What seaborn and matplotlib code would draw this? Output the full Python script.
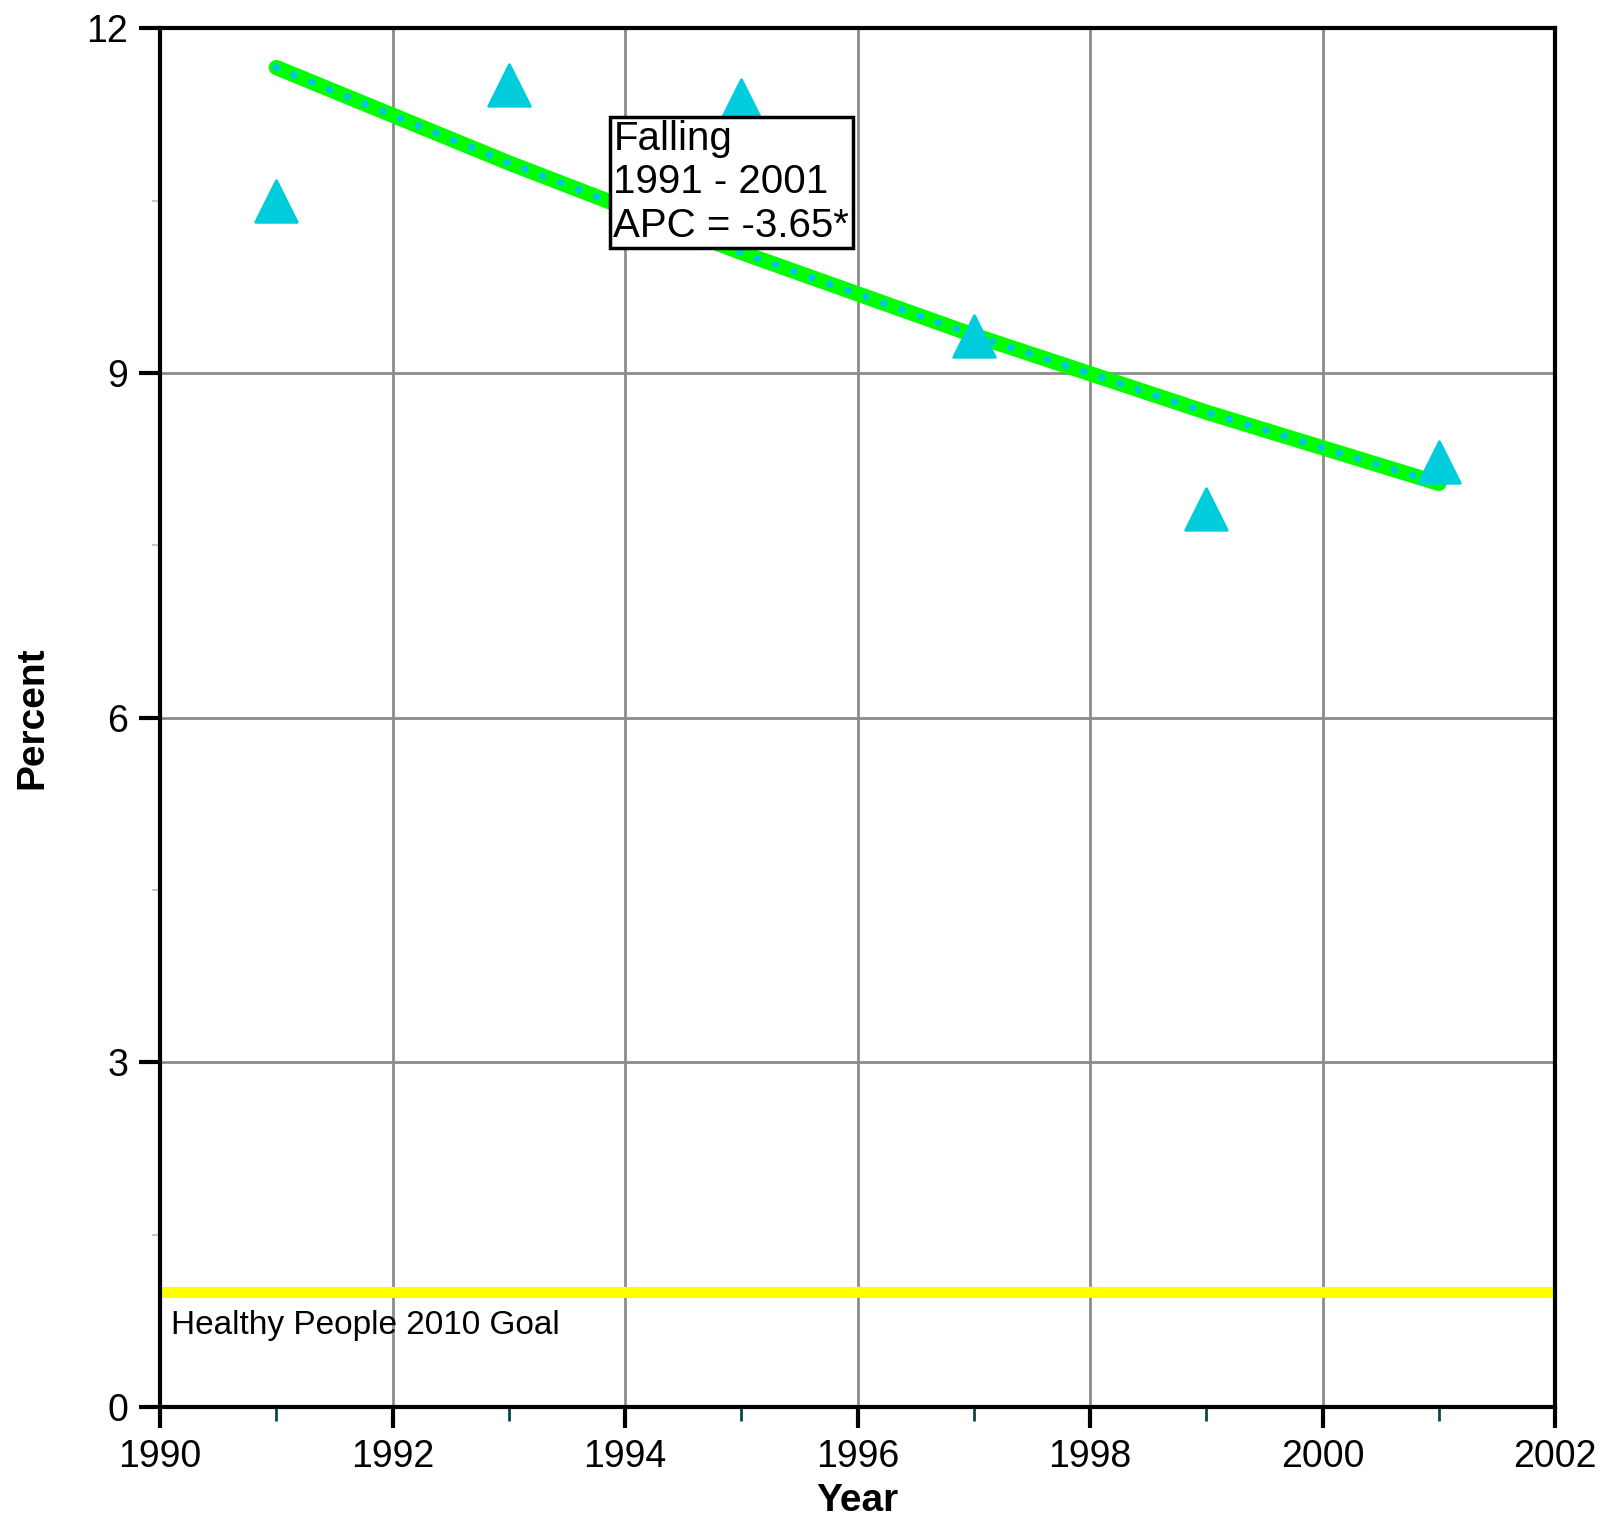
import matplotlib
matplotlib.use("Agg")
import matplotlib.pyplot as plt
import seaborn as sns
import pandas as pd

years = [1991, 1993, 1995, 1997, 1999, 2001]
observed = [10.50, 11.51, 11.38, 9.32, 7.82, 8.23]
fitted = [11.66, 10.83, 10.05, 9.33, 8.66, 8.04]
goal_value = 1.0
goal_label = "Healthy People 2010 Goal"
annotation = "Falling\n1991 - 2001\nAPC = -3.65*"
x_ticks = [1990, 1992, 1994, 1996, 1998, 2000, 2002]
y_ticks = [0, 3, 6, 9, 12]

sns.set_style("white")
plt.rcParams['font.family'] = ['Liberation Sans', 'DejaVu Sans']
plt.rcParams['text.color'] = 'black'
plt.rcParams['axes.labelcolor'] = 'black'
plt.rcParams['xtick.color'] = 'black'
plt.rcParams['ytick.color'] = 'black'

df = pd.DataFrame({"Year": years, "Observed": observed, "Fitted": fitted})

fig = plt.figure(figsize=(15.99, 15.32), dpi=100)
ax = fig.add_axes([0.1001, 0.0816, 0.8725, 0.8998])

ax.set_xlim(1990, 2002)
ax.set_ylim(0, 12)

ax.set_axisbelow(True)
ax.grid(True, which="major", color="#8c8c8c", linewidth=2.0)

ax.axhline(goal_value, color="#ffff00", linewidth=8, zorder=2)
ax.text(1990.09, goal_value - 0.16, goal_label, fontsize=24, ha="left", va="top", color="black")

sns.lineplot(data=df, x="Year", y="Fitted", ax=ax, color="#00ff00", linewidth=11,
             solid_capstyle="round", solid_joinstyle="round", zorder=3)
ax.plot(df["Year"], df["Fitted"], color="#00c8dc", linewidth=5.5,
        linestyle=(0, (0.01, 2.5)), dash_capstyle="round", zorder=4)
sns.scatterplot(data=df, x="Year", y="Observed", ax=ax, marker="^", s=900,
                color="#00cddc", edgecolor="#00cddc", linewidth=2, zorder=5)
for c in ax.collections:
    c.set_joinstyle("round")

ax.text(1993.9, 11.2, annotation, fontsize=29, ha="left", va="top", color="black",
        linespacing=1.17,
        bbox=dict(boxstyle="square,pad=0.08", facecolor="white", edgecolor="black", linewidth=2.5),
        zorder=6)

ax.set_xticks(x_ticks)
ax.set_yticks(y_ticks)
ax.set_xticks([1991, 1993, 1995, 1997, 1999, 2001], minor=True)
ax.set_yticks([1.5, 4.5, 7.5, 10.5], minor=True)
ax.tick_params(axis="both", which="major", labelsize=27, length=15, width=3, color="black",
               labelcolor="black", direction="out", pad=8, bottom=True, left=True)
ax.tick_params(axis="x", which="minor", length=10, width=2, color="#0b4a4a", direction="out", bottom=True)
ax.tick_params(axis="y", which="minor", length=6, width=1.5, color="#c8c8c8", direction="out", left=True)

for s in ax.spines.values():
    s.set_color("black")
    s.set_linewidth(3)
    s.set_visible(True)

ax.set_xlabel("Year", fontsize=28, fontweight="bold", labelpad=6, color="black")
ax.set_ylabel("Percent", fontsize=28, fontweight="bold", labelpad=26, color="black")

fig.savefig("out.png", dpi=100)
